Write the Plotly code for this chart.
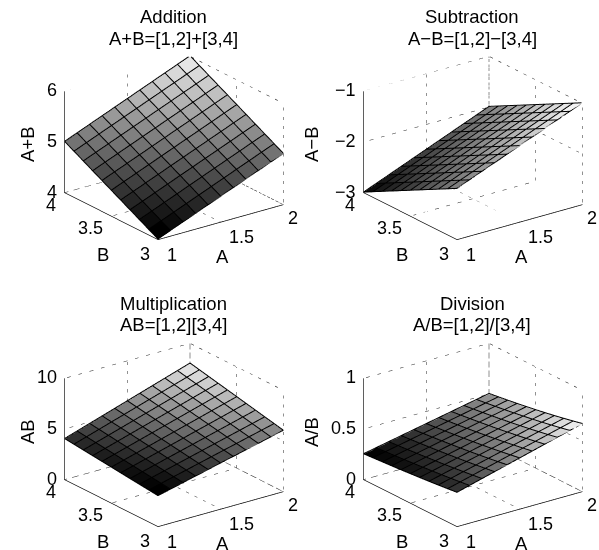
import plotly.graph_objects as go

A_VALUES = [1.0, 1.1, 1.2, 1.3, 1.4, 1.5, 1.6, 1.7, 1.8, 1.9, 2.0]
B_VALUES = [3.0, 3.1, 3.2, 3.3, 3.4, 3.5, 3.6, 3.7, 3.8, 3.9, 4.0]
A_TICKS = [1, 1.5, 2]
B_TICKS = [3, 3.5, 4]

# Rows follow B_VALUES, columns follow A_VALUES
ADDITION = [
    [4.0, 4.1, 4.2, 4.3, 4.4, 4.5, 4.6, 4.7, 4.8, 4.9, 5.0],
    [4.1, 4.2, 4.3, 4.4, 4.5, 4.6, 4.7, 4.8, 4.9, 5.0, 5.1],
    [4.2, 4.3, 4.4, 4.5, 4.6, 4.7, 4.8, 4.9, 5.0, 5.1, 5.2],
    [4.3, 4.4, 4.5, 4.6, 4.7, 4.8, 4.9, 5.0, 5.1, 5.2, 5.3],
    [4.4, 4.5, 4.6, 4.7, 4.8, 4.9, 5.0, 5.1, 5.2, 5.3, 5.4],
    [4.5, 4.6, 4.7, 4.8, 4.9, 5.0, 5.1, 5.2, 5.3, 5.4, 5.5],
    [4.6, 4.7, 4.8, 4.9, 5.0, 5.1, 5.2, 5.3, 5.4, 5.5, 5.6],
    [4.7, 4.8, 4.9, 5.0, 5.1, 5.2, 5.3, 5.4, 5.5, 5.6, 5.7],
    [4.8, 4.9, 5.0, 5.1, 5.2, 5.3, 5.4, 5.5, 5.6, 5.7, 5.8],
    [4.9, 5.0, 5.1, 5.2, 5.3, 5.4, 5.5, 5.6, 5.7, 5.8, 5.9],
    [5.0, 5.1, 5.2, 5.3, 5.4, 5.5, 5.6, 5.7, 5.8, 5.9, 6.0],
]
SUBTRACTION = [
    [-2.0, -1.9, -1.8, -1.7, -1.6, -1.5, -1.4, -1.3, -1.2, -1.1, -1.0],
    [-2.1, -2.0, -1.9, -1.8, -1.7, -1.6, -1.5, -1.4, -1.3, -1.2, -1.1],
    [-2.2, -2.1, -2.0, -1.9, -1.8, -1.7, -1.6, -1.5, -1.4, -1.3, -1.2],
    [-2.3, -2.2, -2.1, -2.0, -1.9, -1.8, -1.7, -1.6, -1.5, -1.4, -1.3],
    [-2.4, -2.3, -2.2, -2.1, -2.0, -1.9, -1.8, -1.7, -1.6, -1.5, -1.4],
    [-2.5, -2.4, -2.3, -2.2, -2.1, -2.0, -1.9, -1.8, -1.7, -1.6, -1.5],
    [-2.6, -2.5, -2.4, -2.3, -2.2, -2.1, -2.0, -1.9, -1.8, -1.7, -1.6],
    [-2.7, -2.6, -2.5, -2.4, -2.3, -2.2, -2.1, -2.0, -1.9, -1.8, -1.7],
    [-2.8, -2.7, -2.6, -2.5, -2.4, -2.3, -2.2, -2.1, -2.0, -1.9, -1.8],
    [-2.9, -2.8, -2.7, -2.6, -2.5, -2.4, -2.3, -2.2, -2.1, -2.0, -1.9],
    [-3.0, -2.9, -2.8, -2.7, -2.6, -2.5, -2.4, -2.3, -2.2, -2.1, -2.0],
]
MULTIPLICATION = [
    [3.0, 3.3, 3.6, 3.9, 4.2, 4.5, 4.8, 5.1, 5.4, 5.7, 6.0],
    [3.1, 3.41, 3.72, 4.03, 4.34, 4.65, 4.96, 5.27, 5.58, 5.89, 6.2],
    [3.2, 3.52, 3.84, 4.16, 4.48, 4.8, 5.12, 5.44, 5.76, 6.08, 6.4],
    [3.3, 3.63, 3.96, 4.29, 4.62, 4.95, 5.28, 5.61, 5.94, 6.27, 6.6],
    [3.4, 3.74, 4.08, 4.42, 4.76, 5.1, 5.44, 5.78, 6.12, 6.46, 6.8],
    [3.5, 3.85, 4.2, 4.55, 4.9, 5.25, 5.6, 5.95, 6.3, 6.65, 7.0],
    [3.6, 3.96, 4.32, 4.68, 5.04, 5.4, 5.76, 6.12, 6.48, 6.84, 7.2],
    [3.7, 4.07, 4.44, 4.81, 5.18, 5.55, 5.92, 6.29, 6.66, 7.03, 7.4],
    [3.8, 4.18, 4.56, 4.94, 5.32, 5.7, 6.08, 6.46, 6.84, 7.22, 7.6],
    [3.9, 4.29, 4.68, 5.07, 5.46, 5.85, 6.24, 6.63, 7.02, 7.41, 7.8],
    [4.0, 4.4, 4.8, 5.2, 5.6, 6.0, 6.4, 6.8, 7.2, 7.6, 8.0],
]
DIVISION = [
    [.3333, .3667, .4, .4333, .4667, .5, .5333, .5667, .6, .6333, .6667],
    [.3226, .3548, .3871, .4194, .4516, .4839, .5161, .5484, .5806, .6129, .6452],
    [.3125, .3438, .375, .4063, .4375, .4688, .5, .5313, .5625, .5938, .625],
    [.303, .3333, .3636, .3939, .4242, .4545, .4848, .5152, .5455, .5758, .6061],
    [.2941, .3235, .3529, .3824, .4118, .4412, .4706, .5, .5294, .5588, .5882],
    [.2857, .3143, .3429, .3714, .4, .4286, .4571, .4857, .5143, .5429, .5714],
    [.2778, .3056, .3333, .3611, .3889, .4167, .4444, .4722, .5, .5278, .5556],
    [.2703, .2973, .3243, .3514, .3784, .4054, .4324, .4595, .4865, .5135, .5405],
    [.2632, .2895, .3158, .3421, .3684, .3947, .4211, .4474, .4737, .5, .5263],
    [.2564, .2821, .3077, .3333, .359, .3846, .4103, .4359, .4615, .4872, .5128],
    [.25, .275, .3, .325, .35, .375, .4, .425, .45, .475, .5],
]

TITLES = ["Addition", "Subtraction", "Multiplication", "Division"]
FORMULAS = ["A+B=[1,2]+[3,4]", "A\u2212B=[1,2]\u2212[3,4]", "AB=[1,2][3,4]", "A/B=[1,2]/[3,4]"]
Z_LABELS = ["A+B", "A\u2212B", "AB", "A/B"]
Z_TICKS = [[4, 5, 6], [-3, -2, -1], [0, 5, 10], [0, 0.5, 1]]
Z_TICKTEXT = [["4", "5", "6"], ["\u22123", "\u22122", "\u22121"], ["0", "5", "10"], ["0", "0.5", "1"]]
TABLES = [ADDITION, SUBTRACTION, MULTIPLICATION, DIVISION]

W, H = 599, 550
FONT = "Liberation Sans"
CENTERS = [(174, 148), (473, 148), (174, 435), (473, 435)]
DOMAINS_X = [(12, 312), (315, 599), (12, 312), (315, 599)]
Z_LABEL_X = [27, 311, 27, 311]
HALF_H = 115
EYE_DIR = (-0.597, -0.802, 0.404)
RIGHT_DIR = (0.802, -0.597)
EYE_SCALE = 1.30
PX_PER_UNIT = HALF_H
A_SHIFTS = [(14, -15), (21, -15), (10, -13)]
B_SHIFTS = [(-13, -14), (-21, -12), (-14, -12)]

fig = go.Figure()
n = len(A_VALUES)
for k, table in enumerate(TABLES):
    scene = "scene" if k == 0 else f"scene{k + 1}"
    zt = Z_TICKS[k]
    amin, amax, bmin, bmax = A_TICKS[0], A_TICKS[-1], B_TICKS[0], B_TICKS[-1]
    zmin, zmax = zt[0], zt[-1]
    lift = (zmax - zmin) * 0.006
    # flat-shaded cells
    X, Y, Z, I, J, K, cells = [], [], [], [], [], [], []
    for r in range(n):
        for c in range(n):
            X.append(A_VALUES[c]); Y.append(B_VALUES[r]); Z.append(table[r][c])
    for r in range(n - 1):
        for c in range(n - 1):
            p = r * n + c
            I += [p, p]; J += [p + 1, p + n + 1]; K += [p + n + 1, p + n]
            cells += [table[r][c], table[r][c]]
    zvals = [v for row in table for v in row]
    fig.add_trace(go.Mesh3d(
        x=X, y=Y, z=Z, i=I, j=J, k=K, intensity=cells, intensitymode="cell",
        colorscale=[[0, "black"], [1, "white"]], cmin=min(zvals), cmax=max(zvals),
        showscale=False, flatshading=True, hoverinfo="skip",
        lighting=dict(ambient=1, diffuse=0, specular=0, fresnel=0), scene=scene))
    # cell outlines, raised a hair so they sit on top of the faces
    lx, ly, lz = [], [], []
    for r in range(n):
        for c in range(n):
            lx.append(A_VALUES[c]); ly.append(B_VALUES[r]); lz.append(table[r][c] + lift)
        lx.append(None); ly.append(None); lz.append(None)
    for c in range(n):
        for r in range(n):
            lx.append(A_VALUES[c]); ly.append(B_VALUES[r]); lz.append(table[r][c] + lift)
        lx.append(None); ly.append(None); lz.append(None)
    fig.add_trace(go.Scatter3d(x=lx, y=ly, z=lz, mode="lines",
                               line=dict(color="black", width=2),
                               hoverinfo="skip", showlegend=False, scene=scene))
    # dotted grid on the floor and back walls
    gx, gy, gz = [], [], []
    for a in A_TICKS:
        gx += [a, a, a, None]; gy += [bmin, bmax, bmax, None]; gz += [zmin, zmin, zmax, None]
    for b in B_TICKS:
        gx += [amin, amax, amax, None]; gy += [b, b, b, None]; gz += [zmin, zmin, zmax, None]
    for z in zt:
        gx += [amin, amax, amax, None]; gy += [bmax, bmax, bmin, None]; gz += [z, z, z, None]
    fig.add_trace(go.Scatter3d(x=gx, y=gy, z=gz, mode="lines",
                               line=dict(color="#222222", width=1, dash="dot"),
                               hoverinfo="skip", showlegend=False, scene=scene))

    def axis(rng, ticks):
        return dict(range=rng, tickmode="array", tickvals=ticks, showticklabels=False,
                    title=dict(text=""), showgrid=False, zeroline=False, showbackground=False,
                    showspikes=False, showline=True, linecolor="black", linewidth=1.5, ticks="")

    tick_font = dict(family=FONT, size=18, color="black")
    labels = []
    for t, (sx, sy) in zip(A_TICKS, A_SHIFTS):
        labels.append(dict(x=t, y=bmin, z=zmin, text=f"{t:g}", xshift=sx, yshift=sy,
                           showarrow=False, xanchor="center", yanchor="middle", font=tick_font))
    for t, (sx, sy) in zip(B_TICKS, B_SHIFTS):
        labels.append(dict(x=amin, y=t, z=zmin, text=f"{t:g}", xshift=sx, yshift=sy,
                           showarrow=False, xanchor="center", yanchor="middle", font=tick_font))
    for t, txt in zip(zt, Z_TICKTEXT[k]):
        labels.append(dict(x=amin, y=bmax, z=t, text=txt, xshift=-6, yshift=1,
                           showarrow=False, xanchor="right", yanchor="middle", font=tick_font))

    cx, cy = CENTERS[k]
    x0, x1 = DOMAINS_X[k]
    shift = cx - (x0 + x1) / 2
    c_x = -shift / PX_PER_UNIT * RIGHT_DIR[0]
    c_y = -shift / PX_PER_UNIT * RIGHT_DIR[1]
    fig.update_layout({scene: dict(
        domain=dict(x=[x0 / W, x1 / W],
                    y=[max(0, 1 - (cy + HALF_H) / H), 1 - (cy - HALF_H) / H]),
        xaxis=axis([amin, amax], A_TICKS),
        yaxis=axis([bmin, bmax], B_TICKS),
        zaxis=axis([zmin, zmax], zt),
        annotations=labels,
        aspectmode="manual", aspectratio=dict(x=1.36, y=1.36, z=0.95),
        camera=dict(projection=dict(type="orthographic"),
                    center=dict(x=c_x, y=c_y, z=0),
                    eye=dict(x=c_x + EYE_DIR[0] * EYE_SCALE, y=c_y + EYE_DIR[1] * EYE_SCALE,
                             z=EYE_DIR[2] * EYE_SCALE)),
    )})

    # Titles and axis names
    tcx = cx - 1
    tcy = 17 if k < 2 else 303
    for txt, px, py in [(TITLES[k], tcx, tcy), (FORMULAS[k], tcx, tcy + 21),
                        ("B", cx - 71, cy + 106), ("A", cx + 48, cy + 108)]:
        fig.add_annotation(text=txt, x=px / W, y=1 - py / H, xref="paper", yref="paper",
                           xanchor="center", yanchor="middle",
                           showarrow=False, font=dict(family=FONT, size=18.5, color="black"))
    fig.add_annotation(text=Z_LABELS[k], x=Z_LABEL_X[k] / W, y=1 - (cy - 3) / H,
                       xref="paper", yref="paper", showarrow=False, textangle=-90,
                       xanchor="center", yanchor="middle",
                       font=dict(family=FONT, size=18.5, color="black"))

fig.update_layout(width=W, height=H, margin=dict(l=0, r=0, t=0, b=0),
                  paper_bgcolor="white", showlegend=False)
fig.write_html("out.html", config=dict(displayModeBar=False),
               post_script="document.body.style.margin='0';document.body.style.overflow='hidden';")
